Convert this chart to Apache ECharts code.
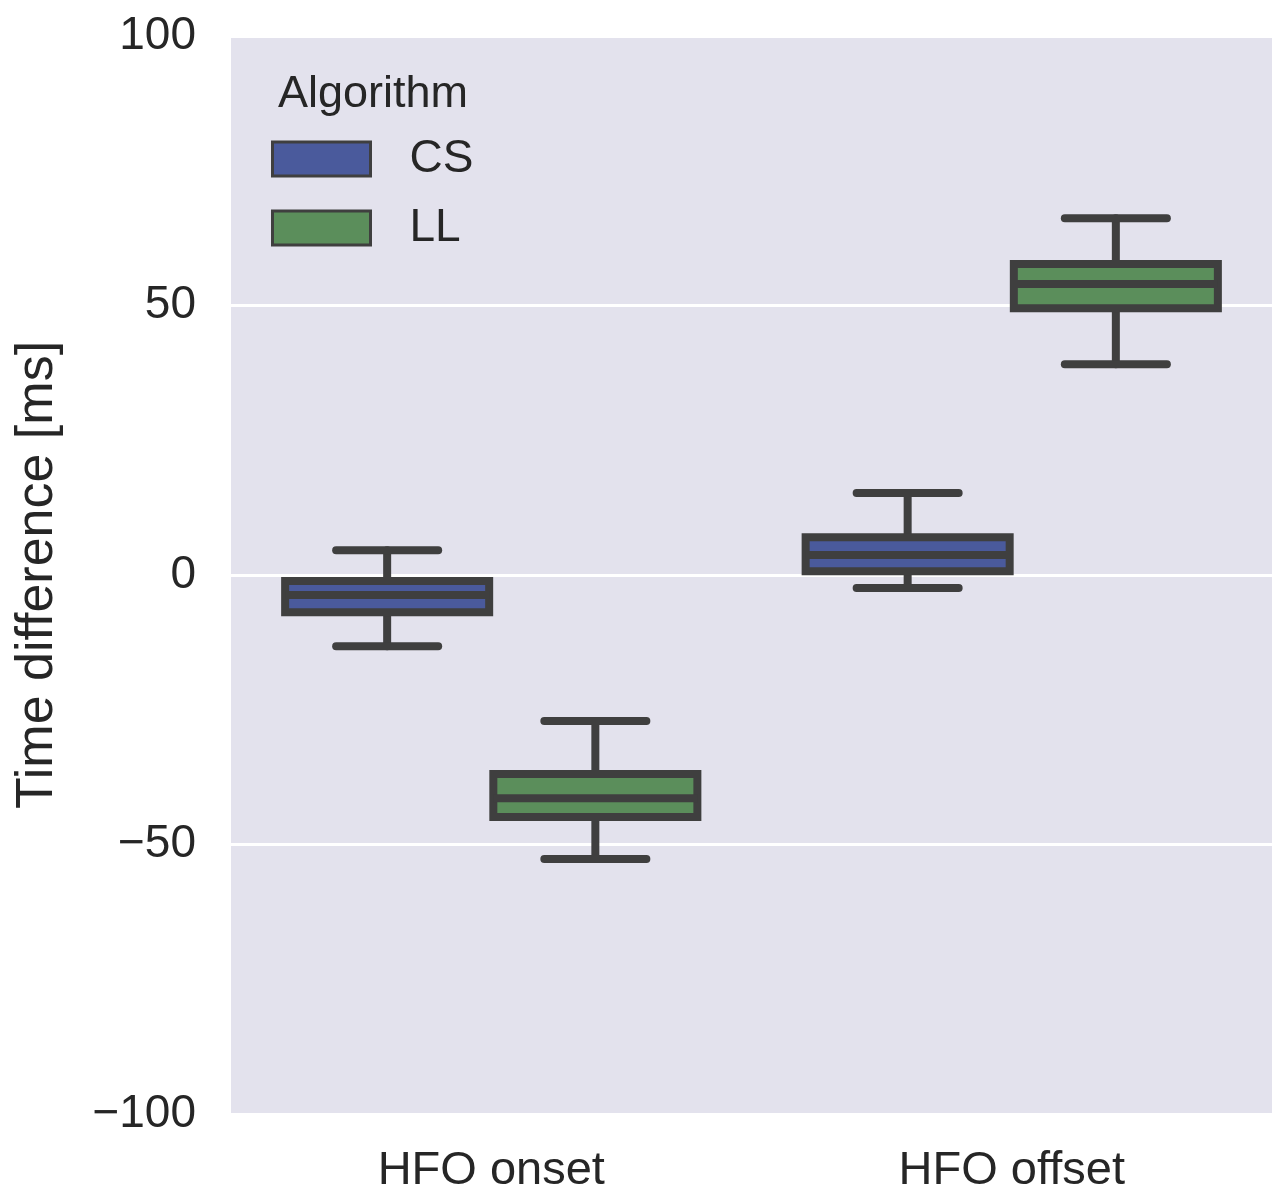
<!DOCTYPE html>
<html><head><meta charset="utf-8">
<script src="https://cdn.jsdelivr.net/npm/echarts@6/dist/echarts.min.js"></script>
<style>html,body{margin:0;padding:0;background:#fff}#c{width:1280px;height:1195px}</style>
</head><body><div id="c"></div>
<script>
// Data
var categories = ['HFO onset', 'HFO offset'];
// [lower whisker, Q1, median, Q3, upper whisker]
var csStats = [[-13.2, -6.9, -3.7, -1.1, 4.6], [-2.4, 0.7, 3.7, 7.0, 15.2]];
var llStats = [[-52.7, -44.9, -41.4, -36.9, -27.1], [39.1, 49.5, 54.0, 57.7, 66.2]];
var yTicks = [-100, -50, 0, 50, 100];

var EDGE = '#3f3f3f';
var CS_COLOR = '#4a5a9c';
var LL_COLOR = '#5b8e5b';
var FONT = '"Liberation Sans", Arial, sans-serif';
var TXT = '#262626';

function makeRender(side, fill) {
  return function (params, api) {
    var ci = api.value(0);
    var lo = api.coord([ci, api.value(1)]);
    var q1 = api.coord([ci, api.value(2)]);
    var md = api.coord([ci, api.value(3)]);
    var q3 = api.coord([ci, api.value(4)]);
    var hi = api.coord([ci, api.value(5)]);
    var bw = api.size([1, 0])[0];
    var bc = lo[0] + side * 0.2 * bw;
    var w = 0.392 * bw;
    var x0 = bc - w / 2, x1 = bc + w / 2;
    var cw = w / 4;
    var ls = { stroke: EDGE, lineWidth: 8, lineCap: 'round' };
    return {
      type: 'group',
      children: [
        { type: 'line', shape: { x1: bc, y1: q3[1], x2: bc, y2: hi[1] }, style: ls },
        { type: 'line', shape: { x1: bc, y1: q1[1], x2: bc, y2: lo[1] }, style: ls },
        { type: 'line', shape: { x1: bc - cw, y1: hi[1], x2: bc + cw, y2: hi[1] }, style: ls },
        { type: 'line', shape: { x1: bc - cw, y1: lo[1], x2: bc + cw, y2: lo[1] }, style: ls },
        { type: 'rect', shape: { x: x0, y: q3[1], width: w, height: q1[1] - q3[1] },
          style: { fill: fill, stroke: EDGE, lineWidth: 8 } },
        { type: 'line', shape: { x1: x0, y1: md[1], x2: x1, y2: md[1] },
          style: { stroke: EDGE, lineWidth: 8 } }
      ]
    };
  };
}

function toData(stats) {
  return stats.map(function (s, i) { return [i].concat(s); });
}

var chart = echarts.init(document.getElementById('c'), null, { renderer: 'canvas' });
chart.setOption({
  animation: false,
  backgroundColor: '#ffffff',
  textStyle: { fontFamily: FONT },
  title: {
    text: 'Algorithm', left: 278, top: 72, padding: 0,
    textStyle: { fontFamily: FONT, fontSize: 45, fontWeight: 'normal', color: TXT }
  },
  legend: {
    orient: 'vertical', left: 271, top: 136, padding: 0,
    itemWidth: 98, itemHeight: 34, itemGap: 23,
    icon: 'rect',
    textStyle: { fontFamily: FONT, fontSize: 46, color: TXT, padding: [0, 0, 0, 34] },
    data: [
      { name: 'CS', itemStyle: { color: CS_COLOR, borderColor: EDGE, borderWidth: 3 } },
      { name: 'LL', itemStyle: { color: LL_COLOR, borderColor: EDGE, borderWidth: 3 } }
    ]
  },
  grid: { left: 231, right: 8, top: 36, bottom: 80, show: true, backgroundColor: '#e3e2ed', borderWidth: 0 },
  xAxis: {
    type: 'category', data: categories,
    axisLine: { show: false }, axisTick: { show: false },
    splitLine: { show: false },
    axisLabel: { fontFamily: FONT, fontSize: 47, color: TXT, margin: 34 }
  },
  yAxis: {
    type: 'value', min: yTicks[0], max: yTicks[yTicks.length - 1], interval: 50,
    name: 'Time difference [ms]', nameLocation: 'middle', nameGap: 167,
    nameTextStyle: { fontFamily: FONT, fontSize: 52, color: TXT },
    axisLine: { show: false }, axisTick: { show: false },
    splitLine: { show: true, lineStyle: { color: '#ffffff', width: 3 } },
    axisLabel: {
      fontFamily: FONT, fontSize: 46, color: TXT, margin: 35,
      formatter: function (v) { return v < 0 ? '\u2212' + Math.abs(v) : String(v); }
    }
  },
  series: [
    { name: 'CS', type: 'custom', renderItem: makeRender(-1, CS_COLOR),
      itemStyle: { color: CS_COLOR, borderColor: EDGE, borderWidth: 3 },
      encode: { x: 0, y: [1, 2, 3, 4, 5] }, data: toData(csStats) },
    { name: 'LL', type: 'custom', renderItem: makeRender(1, LL_COLOR),
      itemStyle: { color: LL_COLOR, borderColor: EDGE, borderWidth: 3 },
      encode: { x: 0, y: [1, 2, 3, 4, 5] }, data: toData(llStats) }
  ]
});
</script>
</body></html>
